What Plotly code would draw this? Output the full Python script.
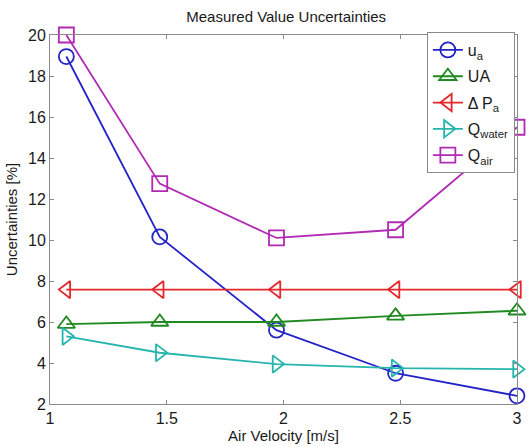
import plotly.graph_objects as go

air_velocity = [1.07, 1.47, 1.97, 2.48, 3.0]
u_a = [18.95, 10.15, 5.6, 3.5, 2.4]
UA = [5.9, 6.0, 6.0, 6.3, 6.55]
dP_a = [7.58, 7.58, 7.58, 7.58, 7.58]
Q_water = [5.3, 4.5, 3.95, 3.75, 3.7]
Q_air = [20.0, 12.75, 10.1, 10.5, 15.5]

series = [
    ("u<sub>a</sub>", u_a, "#2323c8", "circle-open"),
    ("UA", UA, "#1f8a1f", "triangle-up-open"),
    ("Δ P<sub>a</sub>", dP_a, "#e5262b", "triangle-left-open"),
    ("Q<sub>water</sub>", Q_water, "#26b5ad", "triangle-right-open"),
    ("Q<sub>air</sub>", Q_air, "#b02ab3", "square-open"),
]

fig = go.Figure()
for i, (name, vals, color, sym) in enumerate(series):
    fig.add_trace(go.Scatter(
        x=air_velocity, y=vals, name=name, mode="lines+markers",
        legendgroup="g%d" % i,
        line=dict(color=color, width=1.8),
        marker=dict(symbol=sym, size=15, color=color, line=dict(color=color, width=1.8)),
        cliponaxis=False,
    ))

axis_common = dict(
    showgrid=False, zeroline=False, showline=True, linecolor="#8a8a8a", linewidth=1,
    mirror="ticks", ticks="inside", ticklen=4, tickcolor="#8a8a8a",
    tickfont=dict(family="Liberation Sans, Arial, sans-serif", size=16, color="#1a1a1a"),
)

fig.update_layout(
    width=529, height=447,
    margin=dict(l=50, r=7, t=35, b=41),
    paper_bgcolor="white", plot_bgcolor="white",
    font=dict(family="Liberation Sans, Arial, sans-serif", color="#1a1a1a"),
    title=dict(text="Measured Value Uncertainties", x=0.541, xanchor="center",
               y=0.963, yanchor="middle", font=dict(size=15, color="#1a1a1a")),
    xaxis=dict(range=[1, 3], dtick=0.5, tick0=1,
               title=dict(text="Air Velocity [m/s]", font=dict(size=15), standoff=2),
               **axis_common),
    yaxis=dict(range=[2, 20], dtick=2, tick0=2,
               title=dict(text="Uncertainties [%]", font=dict(size=15), standoff=6),
               **axis_common),
    showlegend=True,
    legend=dict(x=0.807, y=1.008, xanchor="left", yanchor="top",
                bgcolor="white", bordercolor="#8a8a8a", borderwidth=1,
                font=dict(size=16, color="#1a1a1a"), tracegroupgap=2.5,
                itemwidth=30),
)

fig.write_html("out.html")
